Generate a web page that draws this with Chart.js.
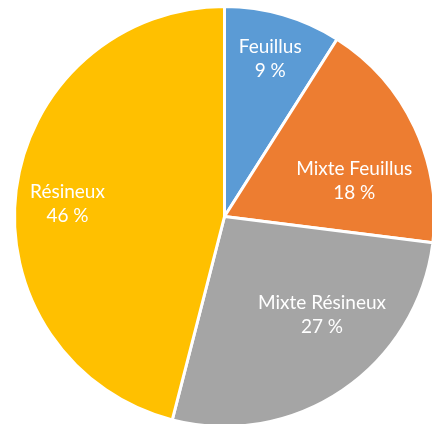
<!DOCTYPE html>
<html>
<head>
<meta charset="utf-8">
<script src="https://cdn.jsdelivr.net/npm/chart.js@4"></script>
<style>
  html, body { margin: 0; padding: 0; background: #fff; overflow: hidden; }
  #wrap { width: 432px; height: 424px; overflow: hidden; }
</style>
</head>
<body>
<div id="wrap"><canvas id="myChart" width="440" height="432"></canvas></div>
<script>
// Forest types and their shares
const categories = ['Feuillus', 'Mixte Feuillus', 'Mixte Résineux', 'Résineux'];
const shares = [9, 18, 27, 46];
const percentLabels = ['9 %', '18 %', '27 %', '46 %'];

const sliceColors = ['#5B9BD5', '#ED7D31', '#A5A5A5', '#FFC000'];

// label placement inside slices (fraction of radius, nudge in degrees)
const labelPlacement = {
  radius: [0.78, 0.64, 0.66, 0.75],
  shiftDeg: [0, 10, -10.5, -2.6]
};

// Draw the category name and percent inside each slice
const sliceLabels = {
  id: 'sliceLabels',
  afterDatasetsDraw(chart) {
    const ctx = chart.ctx;
    const meta = chart.getDatasetMeta(0);
    ctx.save();
    ctx.fillStyle = '#fff';
    ctx.font = '19px Lato';
    ctx.textAlign = 'center';
    ctx.textBaseline = 'middle';
    meta.data.forEach((arc, i) => {
      const p = arc.getProps(['x', 'y', 'startAngle', 'endAngle', 'outerRadius']);
      const mid = (p.startAngle + p.endAngle) / 2 + labelPlacement.shiftDeg[i] * Math.PI / 180;
      const r = p.outerRadius * labelPlacement.radius[i];
      const x = p.x + Math.cos(mid) * r;
      const y = p.y + Math.sin(mid) * r;
      ctx.fillText(categories[i], x, y - 12);
      ctx.fillText(percentLabels[i], x, y + 12);
    });
    ctx.restore();
  }
};

const ctx = document.getElementById('myChart').getContext('2d');
new Chart(ctx, {
  type: 'pie',
  data: {
    labels: categories,
    datasets: [{
      data: shares,
      backgroundColor: sliceColors,
      borderColor: '#fff',
      borderWidth: 3
    }]
  },
  options: {
    responsive: false,
    animation: false,
    layout: { padding: { left: 13, top: 5, right: 4, bottom: 4 } },
    plugins: {
      legend: { display: false },
      tooltip: { enabled: false }
    }
  },
  plugins: [sliceLabels]
});
</script>
</body>
</html>
